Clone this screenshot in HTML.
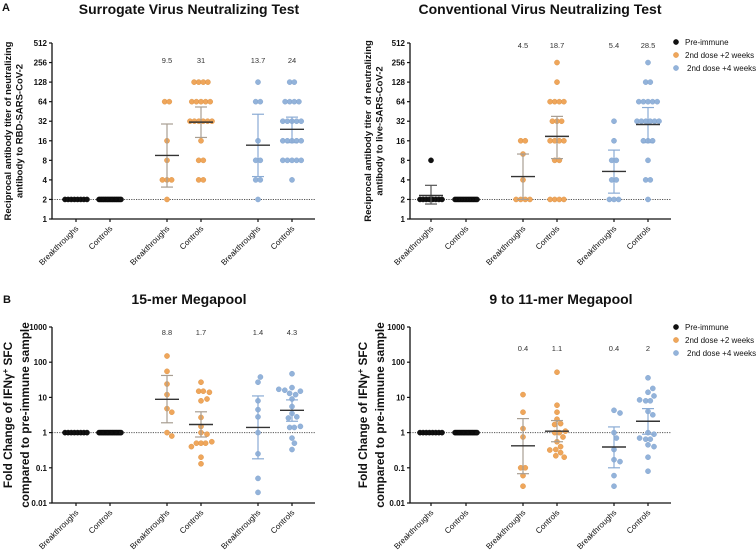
<!DOCTYPE html>
<html><head><meta charset="utf-8"><style>
html,body{margin:0;padding:0;background:#fff;}
svg{display:block;font-family:"Liberation Sans",Arial,sans-serif;}
</style></head><body>
<svg id="fig" width="756" height="553" viewBox="0 0 756 553" xmlns="http://www.w3.org/2000/svg"></svg>
<script>
// ---- data ----
const categories = ["Breakthroughs","Controls","Breakthroughs","Controls","Breakthroughs","Controls"];
const legendLabels = ["Pre-immune","2nd dose +2 weeks","2nd dose +4 weeks"];
// Panel A1: surrogate VNT
const a1Values = [
 [2,2,2,2,2,2,2,2],
 [2,2,2,2,2,2,2,2,2,2,2,2,2,2,2,2,2,2],
 [64,64,16,8,4,4,4,2],
 [128,128,128,128,64,64,64,64,64,32,32,32,32,32,32,16,8,8,4,4],
 [128,64,64,16,8,8,4,4,2],
 [128,128,64,64,64,64,32,32,32,32,32,16,16,16,16,16,8,8,8,8,8,4]
];
const a1Mean = [null,null,9.5,31,13.7,24];
const a1Upper = [null,null,29,53,41,37];
const a1Lower = [null,null,3.1,18,4.5,15];
const a1Labels = ["","","9.5","31","13.7","24"];
// Panel A2: conventional VNT
const a2Values = [
 [8,2,2,2,2,2,2,2,2],
 [2,2,2,2,2,2,2,2,2,2,2,2,2,2,2],
 [16,16,10,4,2,2,2,2],
 [256,128,64,64,64,64,32,32,32,16,16,16,16,8,8,2,2,2,2],
 [32,16,8,8,4,4,2,2,2],
 [256,128,128,64,64,64,64,64,32,32,32,32,32,32,16,16,16,8,4,4,2]
];
const a2Mean = [2.3,null,4.5,18.7,5.4,28.5];
const a2Upper = [3.3,null,10,38,11.5,52];
const a2Lower = [1.7,null,2,8.5,2.5,15];
const a2Labels = ["","","4.5","18.7","5.4","28.5"];
// Panel B1: 15-mer
const b1Values = [
 [1,1,1,1,1,1,1,1],
 [1,1,1,1,1,1,1,1,1,1,1,1,1,1,1,1,1,1],
 [150,55,24,12,4.8,3.8,1.0,0.8],
 [27,15,15,14,9,8,2.7,1.5,1.0,0.9,0.55,0.5,0.5,0.5,0.4,0.2,0.13],
 [38,27,8,4.5,2.8,1.0,0.25,0.05,0.02],
 [47,19,17,16,15,13,12,9,5.5,3.5,2.8,2.6,1.5,1.4,1.4,0.7,0.5,0.33]
];
const b1Mean = [null,null,8.8,1.7,1.4,4.3];
const b1Upper = [null,null,42,3.9,11,8.5];
const b1Lower = [null,null,1.9,0.75,0.18,2.1];
const b1Labels = ["","","8.8","1.7","1.4","4.3"];
// Panel B2: 9 to 11-mer
const b2Values = [
 [1,1,1,1,1,1,1,1],
 [1,1,1,1,1,1,1,1,1,1,1,1,1,1,1,1,1,1],
 [12,3.8,1.3,0.75,0.1,0.1,0.06,0.03],
 [52,6,3.8,2.4,1.8,1.7,1.1,1.0,1.0,0.75,0.55,0.4,0.33,0.32,0.27,0.22,0.2],
 [4.3,3.6,1.0,0.7,0.33,0.17,0.15,0.06,0.03],
 [36,18,14,11,8.5,8,8,4,3.2,1.0,0.9,0.7,0.65,0.65,0.45,0.4,0.2,0.08]
];
const b2Mean = [null,null,0.42,1.1,0.39,2.1];
const b2Upper = [null,null,2.5,2.2,1.45,4.8];
const b2Lower = [null,null,0.068,0.55,0.1,0.9];
const b2Labels = ["","","0.4","1.1","0.4","2"];
const log2Ticks = [1,2,4,8,16,32,64,128,256,512];
const log10Ticks = [0.01,0.1,1,10,100,1000];
const log10TickLabels = ["0.01","0.1","1","10","100","1000"];

const NS="http://www.w3.org/2000/svg";
const svg=document.getElementById('fig');
function el(tag,attrs,parent,text){const e=document.createElementNS(NS,tag);for(const k in attrs)e.setAttribute(k,attrs[k]);if(text!==undefined)e.textContent=text;(parent||svg).appendChild(e);return e;}
const fill=["#111","#EFA65B","#93B3DA"];
const stroke=["#000","#D98E3E","#7D9FCB"];
const errCol=["#555","#A89E92","#8AABD4"];
const R=2.6, SP=4.6, SP2=5.6;

function panel(p){
  const g=el('g',{});
  
  
  const lo=Math.log(p.min),hi=Math.log(p.max);
  const y=v=>p.yBot-(Math.log(v)-lo)/(hi-lo)*(p.yBot-p.yTop);
  const x=i=>p.cats[i];
  const t=el('text',{x:p.titleX,y:p.titleY,'text-anchor':'middle','font-size':14,'font-weight':'bold',fill:'#111'},g,p.title);
  
  const yt=el('text',{transform:`translate(${p.ytX},${(p.yTop+p.yBot)/2}) rotate(-90)`,'text-anchor':'middle','font-size':p.ytSize,'font-weight':'bold',fill:'#111'},g);
  
  p.ytLines.forEach((l,i)=>{const ts=el('tspan',{x:0,dy:i?p.ytGap:0},yt);ts.innerHTML=l;});
  el('line',{x1:p.axX,x2:p.axEnd,y1:y(p.ref),y2:y(p.ref),stroke:'#555','stroke-width':1,'stroke-dasharray':'1.2,1.2'},g);
  const ax=el('path',{d:`M${p.axX},${p.yTop}V${p.yBot}H${p.axEnd}`,fill:'none',stroke:'#111','stroke-width':1.3},g);
  
  p.ticks.forEach((v,i)=>{
    el('line',{x1:p.axX-3,x2:p.axX,y1:y(v),y2:y(v),stroke:'#111','stroke-width':1.2},g);
    const tl=el('text',{x:p.axX-5,y:y(v)+3,'text-anchor':'end','font-size':8,'font-weight':'bold',fill:'#111'},g,p.tickLabels[i]);
    
  });
  categories.forEach((c,i)=>{
    el('line',{x1:x(i),x2:x(i),y1:p.yBot,y2:p.yBot+3,stroke:'#111','stroke-width':1.2},g);
    const xl=el('text',{transform:`translate(${x(i)+3},${p.yBot+10}) rotate(-45)`,'text-anchor':'end','font-size':8,fill:'#111'},g,c);
    
  });
  p.values.forEach((vals,gi)=>{
    const ci=gi<2?0:(gi<4?1:2);
    const placed=[];
    const counts={};
    vals.forEach(v=>{counts[v]=(counts[v]||0)+1;});
    const singles=[];
    Object.keys(counts).forEach(k=>{
      const n=counts[k], v=+k;
      if(n>1){
        const sp=Math.min(SP,22/(n-1));
        for(let j=0;j<n;j++) placed.push([x(gi)+(j-(n-1)/2)*sp,y(v)]);
      } else singles.push(v);
    });
    singles.forEach(v=>{
      const py=y(v);
      for(let k=0;k<60;k++){
        const off=(k%2?1:-1)*Math.ceil(k/2)*1.2;
        const px=x(gi)+off;
        if(placed.every(q=>Math.hypot(q[0]-px,q[1]-py)>=SP2)){placed.push([px,py]);break;}
      }
    });
    placed.forEach(q=>{
      const c=el('circle',{cx:q[0],cy:q[1],r:R,fill:fill[ci],stroke:stroke[ci],'stroke-width':0.4},g);
      
    });
    if(p.mean[gi]!=null){
      const col=errCol[ci];
      el('line',{x1:x(gi),x2:x(gi),y1:y(p.upper[gi]),y2:y(p.lower[gi]),stroke:col,'stroke-width':1.2},g);
      el('line',{x1:x(gi)-6,x2:x(gi)+6,y1:y(p.upper[gi]),y2:y(p.upper[gi]),stroke:col,'stroke-width':1.2},g);
      el('line',{x1:x(gi)-6,x2:x(gi)+6,y1:y(p.lower[gi]),y2:y(p.lower[gi]),stroke:col,'stroke-width':1.2},g);
      const m=el('line',{x1:x(gi)-12,x2:x(gi)+12,y1:y(p.mean[gi]),y2:y(p.mean[gi]),stroke:'#333','stroke-width':1.4},g);
      
    }
    if(p.labels[gi]){
      const ml=el('text',{x:x(gi),y:p.labelY,'text-anchor':'middle','font-size':7.5,fill:'#333'},g,p.labels[gi]);
      
    }
  });
  if(p.legend){
    const lg=el('g',{},g);
    
    legendLabels.forEach((l,i)=>{
      const ly=p.legend[1]+i*13;
      el('circle',{cx:p.legend[0],cy:ly,r:R,fill:fill[i],stroke:stroke[i],'stroke-width':0.4},lg);
      const lt=el('text',{x:p.legend[0]+(i==2?11:9),y:ly+3,'font-size':8,fill:'#111'},lg,l);
      
    });
  }
}
const catsL=[76,110,167,201,258,292], catsR=[431,466,523,557,614,648];
const l2lab=log2Ticks.map(String);
panel({name:'panel-surrogate-vnt',cats:catsL,axX:52,axEnd:315,yTop:43,yBot:219,min:1,max:512,ticks:log2Ticks,tickLabels:l2lab,ref:2,
  title:'Surrogate Virus Neutralizing Test',titleX:189,titleY:14,ytX:11,ytSize:9.5,ytGap:11.5,
  ytLines:['Reciprocal antibody titer of neutralizing','antibody to RBD-SARS-CoV-2'],
  values:a1Values,mean:a1Mean,upper:a1Upper,lower:a1Lower,labels:a1Labels,labelY:63});
panel({name:'panel-conventional-vnt',cats:catsR,axX:410,axEnd:671,yTop:43,yBot:219,min:1,max:512,ticks:log2Ticks,tickLabels:l2lab,ref:2,
  title:'Conventional Virus Neutralizing Test',titleX:540,titleY:14,ytX:371,ytSize:9.5,ytGap:11.5,
  ytLines:['Reciprocal antibody titer&#160; of neutralizing','antibody to live-SARS-CoV-2'],
  values:a2Values,mean:a2Mean,upper:a2Upper,lower:a2Lower,labels:a2Labels,labelY:48,legend:[676,42]});
panel({name:'panel-15mer',cats:catsL,axX:52,axEnd:315,yTop:327,yBot:503,min:0.01,max:1000,ticks:log10Ticks,tickLabels:log10TickLabels,ref:1,
  title:'15-mer Megapool',titleX:189,titleY:304,ytX:12,ytSize:11.8,ytGap:17,
  ytLines:['Fold Change of IFNγ<tspan baseline-shift="super" font-size="8">+</tspan> SFC','compared to pre-immune sample'],
  values:b1Values,mean:b1Mean,upper:b1Upper,lower:b1Lower,labels:b1Labels,labelY:335});
panel({name:'panel-9-11mer',cats:catsR,axX:410,axEnd:671,yTop:327,yBot:503,min:0.01,max:1000,ticks:log10Ticks,tickLabels:log10TickLabels,ref:1,
  title:'9 to 11-mer Megapool',titleX:561,titleY:304,ytX:367,ytSize:11.8,ytGap:17,
  ytLines:['Fold Change of IFNγ<tspan baseline-shift="super" font-size="8">+</tspan> SFC','compared to pre-immune sample'],
  values:b2Values,mean:b2Mean,upper:b2Upper,lower:b2Lower,labels:b2Labels,labelY:351,legend:[676,327]});
const A=el('text',{x:2,y:11,'font-size':11,'font-weight':'bold',fill:'#111'},svg,'A');

const B=el('text',{x:3,y:303,'font-size':11,'font-weight':'bold',fill:'#111'},svg,'B');

</script>
</body></html>
